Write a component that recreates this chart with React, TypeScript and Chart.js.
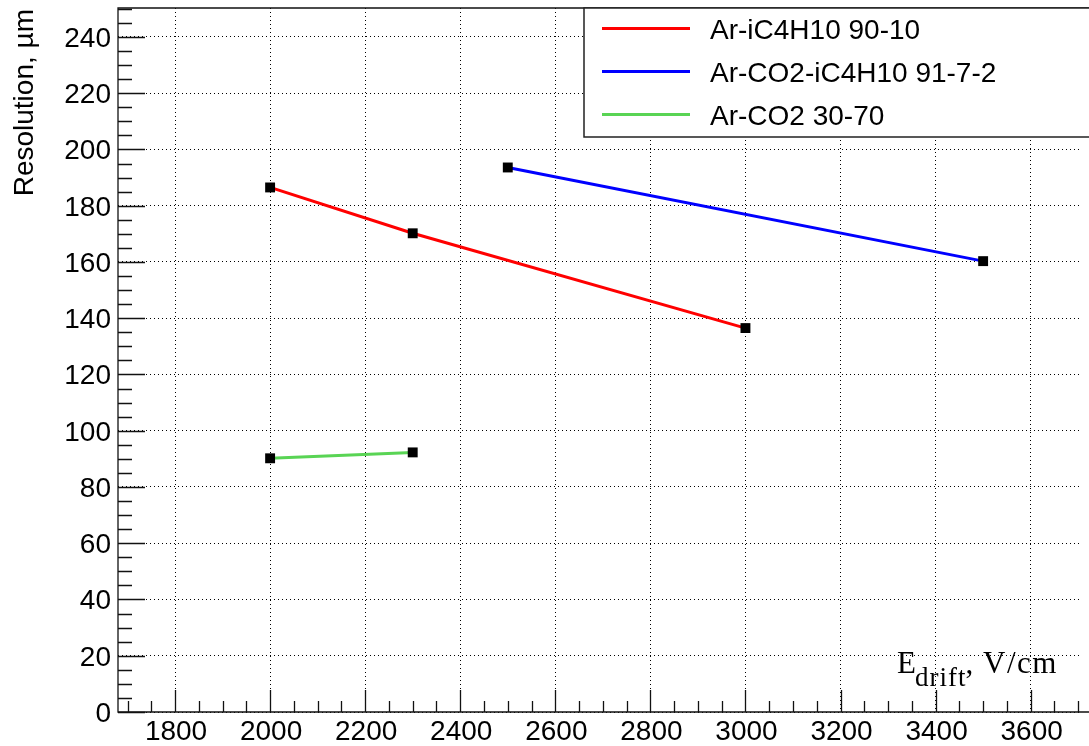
import React, { useEffect, useRef } from "react";
import { Chart, registerables } from "chart.js";

Chart.register(...registerables);

const W = 1089;
const H = 746;

// ---- data ----
const redX = [2000, 2300, 3000];
const redY = [186.5, 170.2, 136.5];
const blueX = [2500, 3500];
const blueY = [193.6, 160.3];
const greenX = [2000, 2300];
const greenY = [90.2, 92.3];

const seriesLabels = ["Ar-iC4H10 90-10", "Ar-CO2-iC4H10 91-7-2", "Ar-CO2 30-70"];
const seriesColors = ["#ff0000", "#0000ff", "#59d454"];

// ---- axes ----
const xMin = 1680;
const xMax = 3708;
const yMin = 0;
const yMax = 250.3;
const xMajorStep = 200;
const xMinorStep = 50;
const yMajorStep = 20;
const yMinorStep = 5;
const yTitle = "Resolution, µm";
const xTitleMain = "E";
const xTitleSub = "drift";
const xTitleComma = ",";
const xTitleRest = "V/cm";

const SANS = "'Liberation Sans', Arial, sans-serif";
const SERIF = "'Liberation Serif', 'Times New Roman', serif";

function toPoints(xs: number[], ys: number[]) {
  return xs.map((x, i) => ({ x, y: ys[i] }));
}

function majorTicks(step: number) {
  return (s: any) => {
    const out: { value: number }[] = [];
    for (let v = Math.ceil(s.min / step) * step; v <= s.max + 1e-9; v += step) {
      out.push({ value: v });
    }
    s.ticks = out;
  };
}

const rootPlugin = {
  id: "rootStyle",
  afterDraw(chart: any) {
    const { ctx, chartArea: ca } = chart;
    const xs = chart.scales.x;
    const ys = chart.scales.y;
    ctx.save();

    // frame (left, top, bottom; right is off-picture)
    ctx.strokeStyle = "#111";
    ctx.lineWidth = 1.3;
    ctx.beginPath();
    ctx.moveTo(ca.right + 10, ca.top);
    ctx.lineTo(ca.left, ca.top);
    ctx.lineTo(ca.left, ca.bottom);
    ctx.lineTo(ca.right + 10, ca.bottom);
    ctx.stroke();

    // inward ticks
    ctx.lineWidth = 1.3;
    ctx.beginPath();
    for (let v = Math.ceil(ys.min / yMinorStep) * yMinorStep; v <= ys.max; v += yMinorStep) {
      const py = Math.round(ys.getPixelForValue(v)) + 0.5;
      const major = Math.abs(v % yMajorStep) < 1e-6;
      ctx.moveTo(ca.left, py);
      ctx.lineTo(ca.left + (major ? 27 : 14), py);
    }
    for (let v = Math.ceil(xs.min / xMinorStep) * xMinorStep; v <= xs.max; v += xMinorStep) {
      const px = Math.round(xs.getPixelForValue(v)) + 0.5;
      const major = Math.abs(v % xMajorStep) < 1e-6;
      ctx.moveTo(px, ca.bottom);
      ctx.lineTo(px, ca.bottom - (major ? 22 : 11));
    }
    ctx.stroke();

    // tick labels
    ctx.fillStyle = "#000";
    ctx.font = `28px ${SANS}`;
    ctx.textAlign = "right";
    ctx.textBaseline = "alphabetic";
    ys.ticks.forEach((t: any) => {
      const py = ys.getPixelForValue(t.value);
      ctx.fillText(String(t.value), 111, py + 10);
    });
    ctx.textAlign = "center";
    xs.ticks.forEach((t: any) => {
      const px = xs.getPixelForValue(t.value);
      ctx.fillText(String(t.value), px + 1, 740);
    });

    // y title
    ctx.save();
    ctx.translate(33, 9);
    ctx.rotate(-Math.PI / 2);
    ctx.textAlign = "right";
    ctx.font = `28px ${SANS}`;
    ctx.fillText(yTitle, 0, 0);
    ctx.restore();

    // x title
    ctx.textAlign = "left";
    ctx.font = `31px ${SERIF}`;
    let cx = 897;
    ctx.fillText(xTitleMain, cx, 673);
    cx += ctx.measureText(xTitleMain).width - 1;
    ctx.font = `27px ${SERIF}`;
    (ctx as any).letterSpacing = "1px";
    ctx.fillText(xTitleSub, cx, 686);
    cx += ctx.measureText(xTitleSub).width;
    (ctx as any).letterSpacing = "0px";
    ctx.font = `31px ${SERIF}`;
    ctx.fillText(xTitleComma, cx - 1, 673);
    (ctx as any).letterSpacing = "1.5px";
    ctx.fillText(xTitleRest, 983, 673);
    (ctx as any).letterSpacing = "0px";

    // legend
    const lx = 584;
    const ly = 8;
    const lb = 137;
    ctx.fillStyle = "#fff";
    ctx.fillRect(lx, ly, W + 20 - lx, lb - ly);
    ctx.strokeStyle = "#222";
    ctx.lineWidth = 1.5;
    ctx.beginPath();
    ctx.moveTo(W + 20, ly);
    ctx.lineTo(lx, ly);
    ctx.lineTo(lx, lb);
    ctx.lineTo(W + 20, lb);
    ctx.stroke();
    const rowsY = [28.5, 71.5, 114.5];
    ctx.font = `28px ${SANS}`;
    ctx.textBaseline = "alphabetic";
    seriesLabels.forEach((lab, i) => {
      ctx.strokeStyle = seriesColors[i];
      ctx.lineWidth = 3;
      ctx.beginPath();
      ctx.moveTo(602, rowsY[i]);
      ctx.lineTo(690, rowsY[i]);
      ctx.stroke();
      ctx.fillStyle = "#000";
      ctx.fillText(lab, 710, rowsY[i] + 10);
    });

    ctx.restore();
  },
};

export default function App() {
  const ref = useRef<HTMLCanvasElement | null>(null);

  useEffect(() => {
    if (!ref.current) return;
    const mk = (label: string, color: string, pts: { x: number; y: number }[]) => ({
      label,
      data: pts,
      borderColor: color,
      backgroundColor: color,
      borderWidth: 3,
      pointStyle: "rect" as const,
      pointRadius: 7,
      pointHoverRadius: 7,
      pointBackgroundColor: "#000",
      pointBorderColor: "#000",
      pointBorderWidth: 0,
      tension: 0,
      fill: false,
    });
    const chart = new Chart(ref.current, {
      type: "line",
      data: {
        datasets: [
          mk(seriesLabels[0], seriesColors[0], toPoints(redX, redY)),
          mk(seriesLabels[1], seriesColors[1], toPoints(blueX, blueY)),
          mk(seriesLabels[2], seriesColors[2], toPoints(greenX, greenY)),
        ],
      },
      options: {
        responsive: false,
        animation: false,
        devicePixelRatio: 1,
        layout: { padding: { left: 118, top: 8, right: 0, bottom: 34 } },
        plugins: { legend: { display: false }, tooltip: { enabled: false } },
        events: [],
        scales: {
          x: {
            type: "linear",
            min: xMin,
            max: xMax,
            ticks: { display: false },
            afterBuildTicks: majorTicks(xMajorStep),
            grid: { color: "#000", lineWidth: 1, drawTicks: false },
            border: { display: false, dash: [1, 3] },
            afterFit: (s: any) => {
              s.height = 0;
            },
          },
          y: {
            type: "linear",
            min: yMin,
            max: yMax,
            ticks: { display: false },
            afterBuildTicks: majorTicks(yMajorStep),
            grid: { color: "#000", lineWidth: 1, drawTicks: false },
            border: { display: false, dash: [1, 3] },
            afterFit: (s: any) => {
              s.width = 0;
            },
          },
        },
      },
      plugins: [rootPlugin],
    });
    return () => chart.destroy();
  }, []);

  return (
    <div
      style={{
        position: "fixed",
        left: 0,
        top: 0,
        width: W,
        height: H,
        overflow: "hidden",
        background: "#fff",
      }}
    >
      <canvas ref={ref} width={W} height={H} style={{ display: "block" }} />
    </div>
  );
}
